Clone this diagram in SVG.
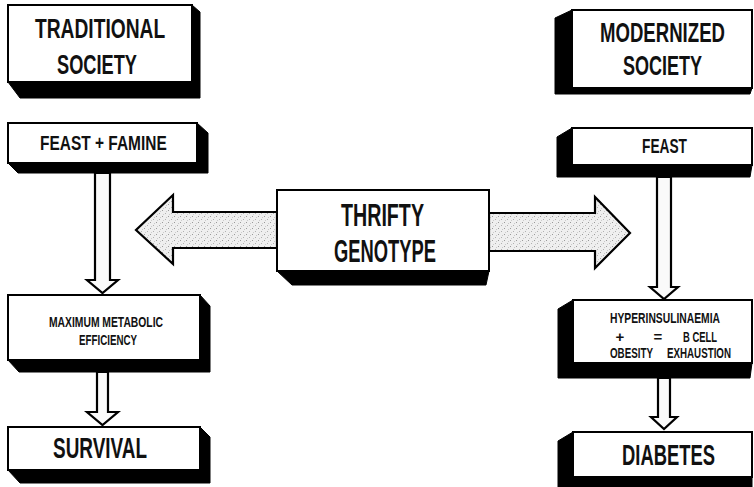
<svg xmlns="http://www.w3.org/2000/svg" width="754" height="487" viewBox="0 0 754 487">
<defs>
<pattern id="stip" width="6" height="6" patternUnits="userSpaceOnUse">
<rect width="6" height="6" fill="#efefef"/>
<rect x="0" y="0" width="1" height="1" fill="#9a9a9a"/>
<rect x="3" y="3" width="1" height="1" fill="#b0b0b0"/>
<rect x="4" y="1" width="1" height="1" fill="#c8c8c8"/>
<rect x="1" y="4" width="1" height="1" fill="#cccccc"/>
</pattern>
</defs>
<style>
.face{fill:#fff;stroke:#000;stroke-width:2}
.sh{fill:#000;stroke:#000;stroke-width:1}
.arr{fill:url(#stip);stroke:#000;stroke-width:2.2;stroke-linejoin:miter}
.varr{fill:#fafafa;stroke:#000;stroke-width:2.2;stroke-linejoin:miter}
text{font-family:"Liberation Sans",Arial,sans-serif;font-weight:bold;fill:#111}
</style>
<rect width="754" height="487" fill="#fff"/>

<g id="connectors">
<polygon class="arr" points="277,212 173,212 173,195 136,230 173,264 173,248 277,248"/>
<polygon class="arr" points="489,213 595,213 595,197 630,233 595,268 595,251 489,251"/>
<polygon class="varr" points="95,173 110,173 110,280 118,280 102.5,293 87,280 95,280"/>
<polygon class="varr" points="97,372 108,372 108,412 118,412 102.5,425 87,412 97,412"/>
<polygon class="varr" points="657,177 671,177 671,287 678,287 664,299 650,287 657,287"/>
<polygon class="varr" points="658,378 670,378 670,417 677,417 664,429 651,417 658,417"/>
</g>

<g id="traditional-society">
<polygon class="sh" points="192,5 200,12 200,98 20,98 8,82"/>
<rect class="face" x="8" y="5" width="184" height="77"/>
<text transform="translate(35,38) scale(0.685,1)" font-size="28" textLength="190" lengthAdjust="spacingAndGlyphs">TRADITIONAL</text>
<text transform="translate(57,74) scale(0.65,1)" font-size="28" textLength="123" lengthAdjust="spacingAndGlyphs">SOCIETY</text>
</g>

<g id="feast-famine">
<polygon class="sh" points="197,123 208,133 208,173 18,173 8,163"/>
<rect class="face" x="8" y="123" width="189" height="40"/>
<text transform="translate(40,150) scale(0.733,1)" font-size="21" textLength="173" lengthAdjust="spacingAndGlyphs">FEAST + FAMINE</text>
</g>

<g id="maximum-metabolic-efficiency">
<polygon class="sh" points="200,295 210,306 210,372 19,372 8,360"/>
<rect class="face" x="8" y="295" width="192" height="65"/>
<text transform="translate(49,327) scale(0.684,1)" font-size="15" textLength="166.7" lengthAdjust="spacingAndGlyphs">MAXIMUM METABOLIC</text>
<text transform="translate(79,345) scale(0.65,1)" font-size="15" textLength="89.2" lengthAdjust="spacingAndGlyphs">EFFICIENCY</text>
</g>

<g id="survival">
<polygon class="sh" points="200,427 210,437 210,483 20,483 8,470"/>
<rect class="face" x="8" y="427" width="192" height="43"/>
<text transform="translate(53,458) scale(0.641,1)" font-size="29" textLength="146.6" lengthAdjust="spacingAndGlyphs">SURVIVAL</text>
</g>

<g id="thrifty-genotype">
<polygon class="sh" points="277,271 292,285 486,285 489,271"/>
<rect class="face" x="277" y="190" width="212" height="81"/>
<text transform="translate(341,226) scale(0.634,1)" font-size="31" textLength="130.9" lengthAdjust="spacingAndGlyphs">THRIFTY</text>
<text transform="translate(334,262) scale(0.592,1)" font-size="31" textLength="172.3" lengthAdjust="spacingAndGlyphs">GENOTYPE</text>
</g>

<g id="modernized-society">
<polygon class="sh" points="572,10 555,18 555,94 750,94 752,88"/>
<rect class="face" x="572" y="10" width="180" height="78"/>
<text transform="translate(600,42) scale(0.664,1)" font-size="28" textLength="188.2" lengthAdjust="spacingAndGlyphs">MODERNIZED</text>
<text transform="translate(623,75) scale(0.643,1)" font-size="28" textLength="122.9" lengthAdjust="spacingAndGlyphs">SOCIETY</text>
</g>

<g id="feast">
<polygon class="sh" points="572,128 557,137 557,177 750,177 752,165"/>
<rect class="face" x="572" y="128" width="180" height="37"/>
<text transform="translate(642,153) scale(0.654,1)" font-size="21" textLength="68.8" lengthAdjust="spacingAndGlyphs">FEAST</text>
</g>

<g id="hyperinsulinaemia">
<polygon class="sh" points="573,300 558,309 558,378 750,378 752,363"/>
<rect class="face" x="573" y="300" width="179" height="63"/>
<text transform="translate(610,323) scale(0.675,1)" font-size="15" textLength="163" lengthAdjust="spacingAndGlyphs">HYPERINSULINAEMIA</text>
<text x="620" y="342" font-size="15" text-anchor="middle">+</text>
<text x="658" y="342" font-size="15" text-anchor="middle">=</text>
<text transform="translate(683,342) scale(0.63,1)" font-size="15" textLength="54" lengthAdjust="spacingAndGlyphs">B CELL</text>
<text transform="translate(610,358) scale(0.653,1)" font-size="15" textLength="65.9" lengthAdjust="spacingAndGlyphs">OBESITY</text>
<text transform="translate(667,358) scale(0.651,1)" font-size="15" textLength="98.3" lengthAdjust="spacingAndGlyphs">EXHAUSTION</text>
</g>

<g id="diabetes">
<polygon class="sh" points="573,432 558,441 558,487 752,487 752,477"/>
<rect class="face" x="573" y="432" width="179" height="45"/>
<text transform="translate(622,465) scale(0.613,1)" font-size="30" textLength="151.7" lengthAdjust="spacingAndGlyphs">DIABETES</text>
</g>
</svg>
